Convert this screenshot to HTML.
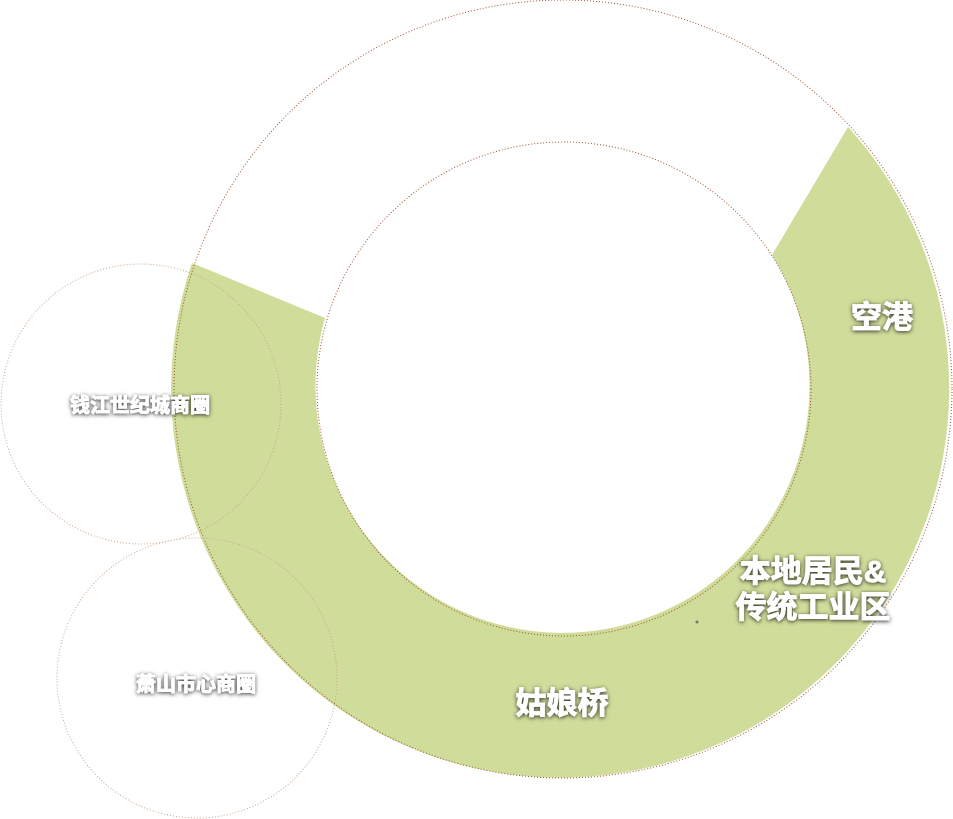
<!DOCTYPE html>
<html><head><meta charset="utf-8"><style>
html,body{margin:0;padding:0;background:#fff;width:953px;height:819px;overflow:hidden}
svg{display:block}
text{font-family:"Liberation Sans","Noto Sans CJK SC",sans-serif;fill:#fff;stroke:#fff;stroke-width:0.9;font-weight:bold;filter:url(#sh)}
</style></head><body>
<svg width="953" height="819" viewBox="0 0 953 819">
<defs><filter id="sh" x="-20%" y="-40%" width="140%" height="180%"><feDropShadow dx="0" dy="1" stdDeviation="2" flood-color="#000" flood-opacity="0.8"/></filter></defs>
<path d="M848,127 A389,389 0 1 1 192,263 L325,318 A247,247 0 1 0 772,255 Z" fill="#cfdc9a"/>
<g fill="none" stroke="#a0522d" stroke-width="1" stroke-dasharray="1 2">
<circle cx="563" cy="389" r="389"/>
<circle cx="564" cy="389" r="247"/>
<circle cx="141" cy="404" r="140" stroke="#c9a68c"/>
<circle cx="197" cy="678" r="140" stroke="#c9a68c"/>
</g>
<circle cx="697" cy="622" r="1.5" fill="#777"/>
<text x="882" y="328" font-size="31" text-anchor="middle">空港</text>
<text x="813" y="582" font-size="31" text-anchor="middle">本地居民&amp;</text>
<text x="813" y="618" font-size="31" text-anchor="middle">传统工业区</text>
<text x="562" y="714" font-size="31" text-anchor="middle">姑娘桥</text>
<text x="140" y="412" font-size="20" text-anchor="middle">钱江世纪城商圈</text>
<text x="196" y="691" font-size="20" text-anchor="middle">萧山市心商圈</text>
</svg>
</body></html>
